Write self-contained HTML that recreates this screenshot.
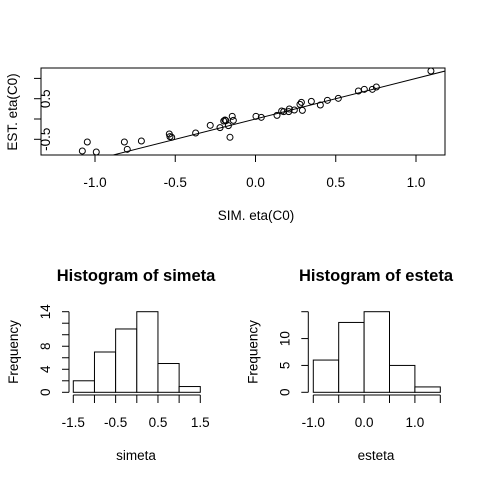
<!DOCTYPE html>
<html><head><meta charset="utf-8"><style>
body{margin:0;background:#fff}
svg{display:block;font-family:"Liberation Sans","DejaVu Sans",sans-serif}
text{font-size:13.5px;fill:#000}
</style></head><body>
<svg id="c" width="480" height="480" viewBox="0 0 480 480">
<rect width="480" height="480" fill="#fff"/>
</svg>
<script>
const simVals=[-1.079,-1.048,-0.992,-0.817,-0.799,-0.711,-0.537,-0.533,-0.522,-0.373,-0.282,-0.221,-0.198,-0.190,-0.184,-0.169,-0.159,-0.145,-0.138,0.003,0.036,0.134,0.163,0.176,0.207,0.211,0.242,0.277,0.286,0.292,0.348,0.404,0.448,0.516,0.641,0.678,0.728,0.753,1.093];
const estVals=[-0.788,-0.567,-0.813,-0.567,-0.747,-0.542,-0.369,-0.435,-0.451,-0.345,-0.156,-0.213,-0.049,-0.025,-0.041,-0.164,-0.451,0.066,-0.033,0.066,0.041,0.090,0.197,0.181,0.181,0.246,0.222,0.361,0.410,0.213,0.435,0.345,0.460,0.509,0.690,0.731,0.731,0.788,1.182];
const scatterXTicks=[-1.0,-0.5,0.0,0.5,1.0];
const scatterXLabels=["-1.0","-0.5","0.0","0.5","1.0"];
const scatterYTicks=[-0.5,0,0.5,1.0];
const scatterYLabels=["-0.5","","0.5",""];
const simBreaks=[-1.5,-1,-0.5,0,0.5,1,1.5];
const simCounts=[2,7,11,14,5,1];
const simYTicks=[0,2,4,6,8,10,12,14];
const simYLabels=["0","","4","","8","","","14"];
const simXTicks=[-1.5,-1,-0.5,0,0.5,1,1.5];
const simXLabels=["-1.5","","-0.5","","0.5","","1.5"];
const estBreaks=[-1,-0.5,0,0.5,1,1.5];
const estCounts=[6,13,15,5,1];
const estYTicks=[0,5,10,15];
const estYLabels=["0","5","10",""];
const estXTicks=[-1,-0.5,0,0.5,1,1.5];
const estXLabels=["-1.0","","0.0","","1.0",""];

const svg=document.getElementById('c');
const NS='http://www.w3.org/2000/svg';
function mk(tag,attrs,parent){const e=document.createElementNS(NS,tag);for(const k in attrs)e.setAttribute(k,attrs[k]);(parent||svg).appendChild(e);return e;}
function txt(s,x,y,attrs,parent){const t=mk('text',Object.assign({x:x,y:y,'text-anchor':'middle'},attrs||{}),parent);t.textContent=s;return t;}

// ---- Scatter ----
const sx=v=>255.5+v*160.5, sy=v=>119-v*40.6;
const g1=mk('g',{});


const box=mk('rect',{x:41,y:68,width:404,height:87,fill:'none',stroke:'#000'},g1);


const clip=mk('clipPath',{id:'cp'},g1);mk('rect',{x:41,y:68,width:404,height:87},clip);
const ref=mk('line',{x1:sx(-1.2),y1:sy(-1.2),x2:sx(1.3),y2:sy(1.3),stroke:'#000','clip-path':'url(#cp)'},g1);


simVals.forEach((v,i)=>{const c=mk('circle',{cx:sx(v),cy:sy(estVals[i]),r:3,fill:'none',stroke:'#000'},g1);

});
scatterXTicks.forEach((v,i)=>{mk('line',{x1:sx(v),y1:155,x2:sx(v),y2:162,stroke:'#000'},g1);
const t=txt(scatterXLabels[i],sx(v),187,{},g1);

});
scatterYTicks.forEach((v,i)=>{mk('line',{x1:41,y1:sy(v),x2:34,y2:sy(v),stroke:'#000'},g1);
if(scatterYLabels[i]){const t=txt(scatterYLabels[i],0,0,{transform:`translate(50,${sy(v)}) rotate(-90)`},g1);

}});
const xt=txt('SIM. eta(C0)',256,220,{},g1);


const yt=txt('EST. eta(C0)',0,0,{transform:'translate(17,112) rotate(-90)'},g1);



// ---- Histograms ----
function hist(name,breaks,counts,x0,pxU,yMax,yTicks,yLabels,xTicks,xLabels,title,xlab,axisX,cx){
  const g=mk('g',{});
  
  
  const bx=v=>x0+(v-breaks[0])*pxU, by=v=>392.3-v*(80.6/yMax);
  counts.forEach((c,i)=>{const r=mk('rect',{x:bx(breaks[i]),y:by(c),width:bx(breaks[i+1])-bx(breaks[i]),height:by(0)-by(c),fill:'#fff',stroke:'#000'},g);
  
  });
  mk('line',{x1:bx(xTicks[0]),y1:395,x2:bx(xTicks[xTicks.length-1]),y2:395,stroke:'#000'},g);
  xTicks.forEach((v,i)=>{mk('line',{x1:bx(v),y1:395,x2:bx(v),y2:403,stroke:'#000'},g);
    if(xLabels[i]){const t=txt(xLabels[i],bx(v),427,{},g);
    
    }});
  mk('line',{x1:axisX,y1:by(yTicks[0]),x2:axisX,y2:by(yTicks[yTicks.length-1]),stroke:'#000'},g);
  yTicks.forEach((v,i)=>{mk('line',{x1:axisX,y1:by(v),x2:axisX-7,y2:by(v),stroke:'#000'},g);
    if(yLabels[i]){const t=txt(yLabels[i],0,0,{transform:`translate(${axisX-19},${by(v)}) rotate(-90)`},g);
    
    }});
  const tt=txt(title,cx,281,{'font-weight':'bold',style:'font-size:16.5px'},g);
  
  
  const xl=txt(xlab,cx,460,{},g);
  
  
  const yl=txt('Frequency',0,0,{transform:`translate(${axisX-51},352) rotate(-90)`},g);
  
  
}
hist('histogram-simeta',simBreaks,simCounts,73.3,42.33,14,simYTicks,simYLabels,simXTicks,simXLabels,'Histogram of simeta','simeta',69,136);
hist('histogram-esteta',estBreaks,estCounts,313.3,50.8,15,estYTicks,estYLabels,estXTicks,estXLabels,'Histogram of esteta','esteta',308.3,376);
</script>
</body></html>
